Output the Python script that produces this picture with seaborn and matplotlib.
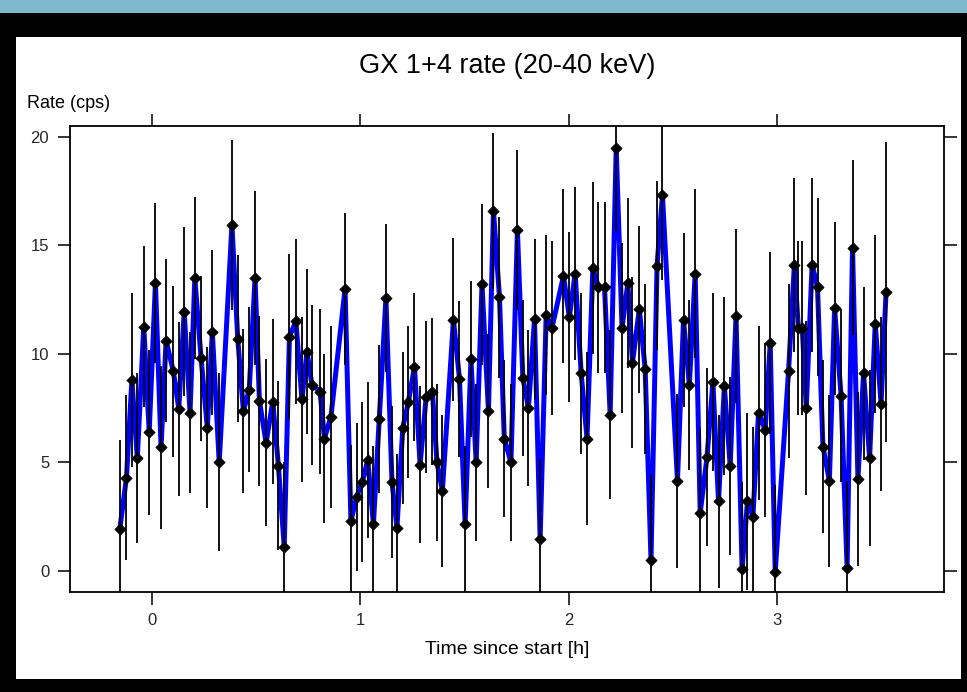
import matplotlib
matplotlib.use("Agg")
import matplotlib.pyplot as plt
from matplotlib import font_manager
from matplotlib.patches import Rectangle, FancyBboxPatch
import seaborn as sns
import pandas as pd

# ---------------- data ----------------
time_h = [
    -0.155, -0.123, -0.097, -0.071, -0.040, -0.014, 0.016, 0.043, 0.067, 0.102,
    0.128, 0.154, 0.182, 0.205, 0.235, 0.265, 0.289, 0.322, 0.383, 0.411,
    0.438, 0.466, 0.494, 0.515, 0.547, 0.579, 0.606, 0.634, 0.659, 0.690,
    0.719, 0.743,
    0.767, 0.806, 0.827, 0.858, 0.926, 0.954, 0.981, 1.008, 1.035, 1.062,
    1.090, 1.122, 1.151, 1.175, 1.203, 1.230, 1.259, 1.286, 1.315, 1.345,
    1.367, 1.393, 1.446, 1.475, 1.502, 1.530, 1.555, 1.583, 1.614, 1.638,
    1.667, 1.690,
    1.722, 1.753, 1.779, 1.806, 1.835, 1.862, 1.891, 1.919, 1.974, 2.002,
    2.030, 2.059, 2.087, 2.115, 2.142, 2.171, 2.198, 2.227, 2.255, 2.283,
    2.305, 2.338, 2.366, 2.394, 2.423, 2.449, 2.521, 2.550, 2.578, 2.606,
    2.630,
    2.663, 2.691, 2.718, 2.746, 2.774, 2.802, 2.831, 2.857, 2.883, 2.910,
    2.942, 2.966, 2.990, 3.054, 3.082, 3.101, 3.120, 3.139, 3.167, 3.193,
    3.219, 3.250, 3.275, 3.306, 3.335, 3.361, 3.387, 3.414, 3.443, 3.470,
    3.498, 3.522,
]

rate_cps = [
    1.94, 4.3, 8.8, 5.2, 11.26, 6.4, 13.26, 5.7, 10.6, 9.2,
    7.47, 11.95, 7.3, 13.5, 9.8, 6.6, 11.0, 5.0, 15.94, 10.7,
    7.37, 8.34, 13.5, 7.83, 5.9, 7.8, 4.85, 1.12, 10.8, 11.5,
    7.9, 10.1,
    8.57, 8.26, 6.1, 7.1, 13.0, 2.3, 3.4, 4.1, 5.1, 2.15,
    7.0, 12.57, 4.1, 2.0, 6.6, 7.8, 9.4, 4.9, 8.0, 8.26,
    5.0, 3.7, 11.57, 8.85, 2.15, 9.75, 5.0, 13.2, 7.37, 16.6,
    12.6, 6.1,
    5.0, 15.7, 8.9, 7.5, 11.6, 1.46, 11.8, 11.2, 13.6, 11.7,
    13.7, 9.1, 6.1, 13.95, 13.07, 13.07, 7.2, 19.5, 11.2, 13.26,
    9.6, 12.06, 9.3, 0.5, 14.07, 17.3, 4.15, 11.57, 8.57, 13.7,
    2.66,
    5.27, 8.7, 3.2, 8.5, 4.85, 11.75, 0.1, 3.2, 2.5, 7.27,
    6.5, 10.5, -0.06, 9.2, 14.1, 11.2, 11.2, 7.5, 14.1, 13.1,
    5.73, 4.15, 12.1, 8.08, 0.15, 14.9, 4.24, 9.1, 5.2, 11.4,
    7.7, 12.84,
]

rate_err = [
    4.1, 3.8, 4.0, 3.9, 3.7, 3.8, 3.7, 3.75, 3.75, 3.95,
    4.0, 3.9, 3.7, 3.75, 3.8, 3.7, 3.8, 4.1, 3.9, 3.85,
    3.8, 3.8, 4.0, 3.9, 3.85, 3.8, 3.9, 3.9, 3.8, 3.8,
    3.8, 3.8,
    3.7, 3.8, 3.9, 4.2, 3.5, 3.5, 3.4, 3.7, 3.6, 3.6,
    3.4, 3.4, 3.5, 3.4, 3.5, 3.5, 3.4, 3.6, 3.5, 3.4,
    3.6, 3.5, 3.75, 3.6, 3.6, 3.6, 3.6, 3.7, 3.55, 3.6,
    3.7, 3.6,
    3.6, 3.7, 3.6, 3.6, 3.7, 3.7, 3.7, 4.0, 4.0, 3.9,
    4.0, 3.7, 4.0, 3.95, 3.95, 3.95, 3.9, 3.9, 3.9, 3.9,
    3.95, 3.85, 3.9, 3.9, 3.9, 3.9, 4.0, 4.0, 3.9, 3.9,
    3.9,
    4.1, 4.1, 4.0, 4.1, 4.1, 4.0, 4.0, 4.1, 4.15, 4.0,
    4.0, 4.2, 4.0, 4.0, 4.0, 4.0, 4.0, 4.0, 4.0, 4.1,
    4.0, 3.95, 4.0, 4.0, 4.0, 4.05, 4.0, 4.0, 4.05, 4.1,
    4.0, 6.9,
]

x_ticks = [0, 1, 2, 3]
y_ticks = [0, 5, 10, 15, 20]
title_text = "GX 1+4 rate (20-40 keV)"
ylabel_text = "Rate (cps)"
xlabel_text = "Time since start [h]"

assert len(time_h) == len(rate_cps) == len(rate_err)
df = pd.DataFrame({"time": time_h, "rate": rate_cps, "err": rate_err})

# ---------------- style ----------------
sns.set_theme(style="white")
names = {f.name for f in font_manager.fontManager.ttflist}
fam = "Liberation Sans Narrow" if "Liberation Sans Narrow" in names else "Liberation Sans"
plt.rcParams["font.family"] = [fam, "DejaVu Sans"]

W, H = 967, 692
fig = plt.figure(figsize=(W / 100, H / 100), dpi=100)
fig.patch.set_facecolor("black")

# top light-blue strip, black frame, white panel
fig.add_artist(Rectangle((0, 1 - 13 / H), 1, 13 / H, transform=fig.transFigure,
                         facecolor="#7fb9cd", edgecolor="none", zorder=-20))
fig.add_artist(FancyBboxPatch((2 / W, 0), (W - 4) / W, (H - 13) / H,
                              boxstyle="round,pad=0,rounding_size=0.012",
                              transform=fig.transFigure, facecolor="black",
                              edgecolor="none", zorder=-19))
fig.add_artist(Rectangle((16 / W, 13 / H), 945 / W, 642 / H, transform=fig.transFigure,
                         facecolor="white", edgecolor="none", zorder=-18))

ax = fig.add_axes([70 / W, 100 / H, 874 / W, 466 / H])
ax.set_facecolor("white")

sns.lineplot(data=df, x="time", y="rate", ax=ax, color="#0000ff", linewidth=3.6,
             estimator=None, sort=False, zorder=2)
ax.errorbar(df["time"], df["rate"], yerr=df["err"], fmt="none", ecolor="black",
            elinewidth=1.3, capsize=0, zorder=3)
sns.scatterplot(data=df, x="time", y="rate", ax=ax, marker="D", s=32,
                color="black", edgecolor="black", linewidth=0.6, zorder=4)

ax.set_xlim(-0.394, 3.80)
ax.set_ylim(-0.97, 20.5)
ax.set_xticks(x_ticks)
ax.set_yticks(y_ticks)
ax.set_xlabel("")
ax.set_ylabel("")
ax.tick_params(axis="both", which="both", direction="out", length=9, width=1.1,
               color="black", labelsize=12, top=True, right=True,
               labeltop=False, labelright=False, bottom=True, left=True)
ax.tick_params(axis="x", pad=6)
ax.tick_params(axis="y", pad=6)
for s in ax.spines.values():
    s.set_visible(True)
    s.set_color("black")
    s.set_linewidth(1.3)

fig.text(507 / W, 1 - 66 / H, title_text, ha="center", va="center",
         fontsize=19.5, color="black")
fig.text(27 / W, 1 - 104 / H, ylabel_text, ha="left", va="center",
         fontsize=13, color="black")
fig.text(507 / W, 1 - 650 / H, xlabel_text, ha="center", va="center",
         fontsize=14, color="black")

fig.savefig("out.png", dpi=100, facecolor=fig.get_facecolor())
